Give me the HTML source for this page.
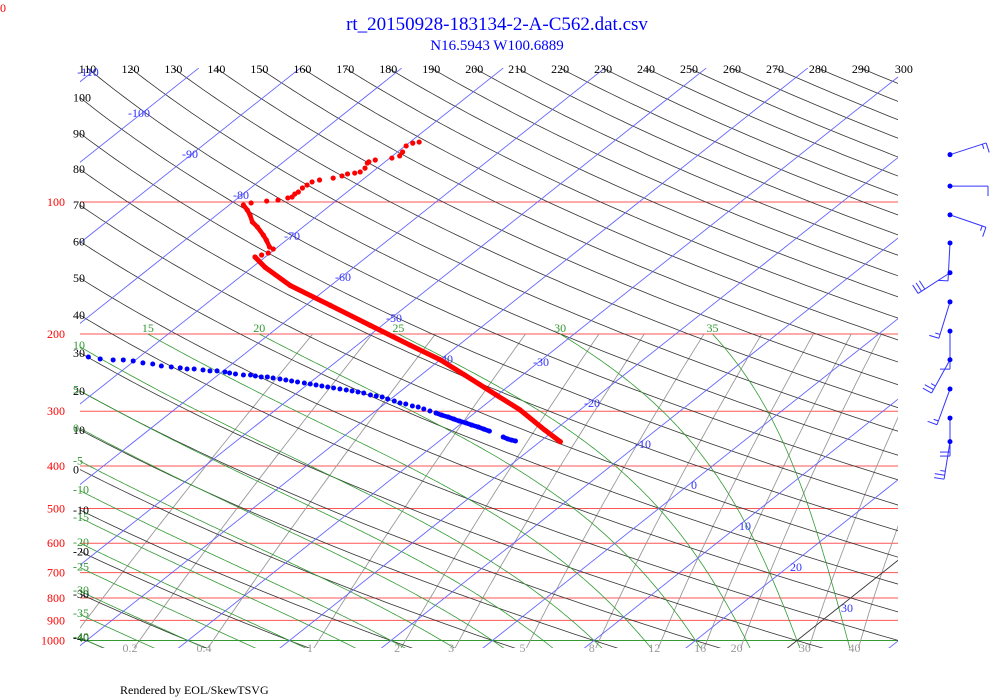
<!DOCTYPE html>
<html><head><meta charset="utf-8">
<style>
html,body{margin:0;padding:0;background:#fff;}
svg{display:block;font-family:"Liberation Serif",serif;}
</style></head>
<body>
<svg id="chart" width="1000" height="700" viewBox="0 0 1000 700" xmlns="http://www.w3.org/2000/svg">
  <defs><clipPath id="plotclip"><rect x="80" y="68" width="818" height="580"/></clipPath></defs>
  <text x="0" y="12" font-size="12" fill="#ff0000">0</text>
  <text x="497" y="30" font-size="19" fill="#0000ff" text-anchor="middle">rt_20150928-183134-2-A-C562.dat.csv</text>
  <text x="497" y="50" font-size="15" fill="#0000ff" text-anchor="middle">N16.5943 W100.6889</text>
  <text x="120" y="694" font-size="12" fill="#000">Rendered by EOL/SkewTSVG</text>
  <g id="grid" clip-path="url(#plotclip)"></g>
  <g id="labels"></g>
  <g id="series" clip-path="url(#plotclip)"></g>
  <g id="barbs"></g>
</svg>
<script>
// ---- data ----
const tempP = [352,331,298,275,248,229,212,191,172,155,141,133.5,132.1,130.7,128.0,126.7,122.1,119.0,114.0,111.1,107.1,104.3,101.6,100.5,99.5,99.0,97.9,97.4,95.9,94.9,92.9,91.5,90.0,89.1,88.2,87.2,86.3,85.9,85.4,83.7,81.5,81.0,80.2,79.4,78.5,76.9,74.5,73.4,73.0];
const tempT = [-18.0,-21.0,-25.9,-30.2,-35.7,-40.0,-44.8,-51.2,-57.6,-64.0,-68.7,-71.0,-70.6,-70.2,-70.2,-70.8,-72.0,-72.9,-74.5,-75.6,-76.7,-77.6,-78.6,-78.1,-76.8,-75.8,-75.1,-74.8,-74.9,-74.8,-74.9,-74.8,-74.7,-74.2,-73.1,-72.5,-72.2,-71.6,-71.2,-71.2,-71.6,-71.6,-71.2,-69.8,-69.3,-69.5,-69.9,-69.6,-69.1];
const dewP = [225.7,228.0,229.2,229.2,230.4,232.8,234.1,236.6,237.8,239.0,240.3,240.3,241.6,242.8,242.8,244.1,245.5,246.8,248.0,248.0,249.3,250.6,250.6,252.0,253.3,254.6,256.0,257.3,258.7,260.0,261.4,262.8,264.2,265.6,267.0,268.4,269.8,271.2,272.7,275.5,277.0,278.4,281.4,284.4,287.3,288.9,291.9,293.5,296.6,299.7,302.9,306.1,309.3,312.6,315.9,319.2,322.6,326.0,329.5,333.0,343.6,347.2,349.1,350.8];
const dewT = [-75.0,-73.6,-72.2,-71.2,-70.1,-68.9,-67.8,-66.7,-65.6,-64.6,-63.8,-63.1,-62.1,-61.3,-60.6,-59.7,-59.1,-58.4,-57.5,-56.8,-56.2,-55.5,-54.9,-54.2,-53.4,-52.7,-52.0,-51.3,-50.5,-49.8,-49.1,-48.4,-47.7,-47.0,-46.25,-45.5,-44.8,-44.1,-43.4,-42.5,-41.8,-41.1,-40.3,-39.4,-38.6,-37.9,-37.0,-36.3,-35.5,-34.65,-33.8,-33.0,-32.1,-31.3,-30.5,-29.6,-28.8,-27.9,-27.1,-26.3,-24.2,-23.5,-23.0,-22.5];
const windP = [78,92,107,124,145,169,197,229,267,311,352];
const windDir = [72,90,109,183,237,197,180,209,200,180,189];
const windSpd = [15,10,15,10,30,15,10,25,15,20,25];
const pressureTicks = [100,200,300,400,500,600,700,800,900,1000];
const isoTicks = [-120,-110,-100,-90,-80,-70,-60,-50,-40,-30,-20,-10,0,10,20,30,40,50];
const thetaTicks = [-40,-30,-20,-10,0,10,20,30,40,50,60,70,80,90,100,110,120,130,140,150,160,170,180,190,200,210,220,230,240,250,260,270,280,290,300];
const moistTicks = [-40,-35,-30,-25,-20,-15,-10,-5,0,5,10,15,20,25,30,35];
const mixTicks = [0.1,0.2,0.4,1,2,3,5,8,12,16,20,30,40];

// ---- axes ----
function yP(p){return 202+438.5*Math.log10(p/100);}
function xT(T,p){return 233+10.15*(T+80)-1.26*(yP(p)-202);}
const NS='http://www.w3.org/2000/svg';
const grid=document.getElementById('grid'), labels=document.getElementById('labels'), series=document.getElementById('series'), barbs=document.getElementById('barbs');
function mk(tag,attrs,parent){const e=document.createElementNS(NS,tag);for(const k in attrs)e.setAttribute(k,attrs[k]);parent.appendChild(e);return e;}
function txt(parent,x,y,s,fill,anchor){const t=mk('text',{x:x,y:y,'font-size':12,fill:fill,'text-anchor':anchor||'start'},parent);t.textContent=s;return t;}
function pathFrom(pts){return pts.map((q,i)=>(i?'L':'M')+q[0].toFixed(1)+' '+q[1].toFixed(1)).join(' ');}
const PTOP=49.5, PBOT=1050;
function crossLeft(f,lo0){
  let lo=lo0||PTOP,hi=PBOT; const a=f(lo)-80,b=f(hi)-80;
  if(a*b>0) return null;
  for(let i=0;i<50;i++){const m=Math.sqrt(lo*hi);const v=f(m)-80;if((v>0)===(a>0))lo=m;else hi=m;}
  return yP(lo);
}

// isobars
pressureTicks.forEach(p=>{
  const l=mk('line',{x1:80,x2:898,y1:yP(p),y2:yP(p),stroke:p===1000?'#339933':'#ff5555','stroke-width':1},grid);
  
  
  const t=txt(labels,65,yP(p)+4,String(p),'#ff0000','end');
  
  
});

// mixing ratio lines
mixTicks.forEach(w=>{
  const pts=[];
  for(let p=PBOT;p>=200;p-=10){const e=w*p/(622+w);const l=Math.log(e/6.112);const td=243.5*l/(17.67-l);pts.push([xT(td,p),yP(p)]);}
  const pa=mk('path',{d:pathFrom(pts),fill:'none',stroke:'#999','stroke-width':0.9},grid);
  
  
  if(w>=0.2){const t=txt(labels,pts[1][0]-4,652,String(w),'#999','middle');
    
    }
});

// dry adiabats
thetaTicks.forEach(th=>{
  const f=p=>xT((th+273.15)*Math.pow(p/1000,0.286)-273.15,p);
  const pts=[];
  for(let lp=Math.log(PBOT);lp>=Math.log(PTOP)-0.01;lp-=0.02){const p=Math.exp(lp);pts.push([f(p),yP(p)]);}
  const pa=mk('path',{d:pathFrom(pts),fill:'none',stroke:'#333','stroke-width':0.8},grid);
  
  
  const yl=crossLeft(f);
  let t;
  if(yl!==null && yl>72) t=txt(labels,73,yl+4,String(th),'#000');
  else {const xt=f(PTOP); if(xt>=70&&xt<=905) t=txt(labels,xt,73,String(th),'#000','middle');}
  if(t){
    }
});

// moist adiabats
function dTdp(T,p){const Tc=T-273.15;const es=6.112*Math.exp(17.67*Tc/(Tc+243.5));const rs=0.622*es/(p-es);
  const Rd=287.04,cp=1005.7,L=2.501e6,eps=0.622;return (Rd*T+L*rs)/(p*(cp+L*L*rs*eps/(Rd*T*T)));}
moistTicks.forEach(tw=>{
  let T=tw+273.15; const up=[];
  for(let p=1000;p>=200;p-=2){up.push([p,T]);T-=dTdp(T,p)*2;}
  T=tw+273.15; const dn=[];
  for(let p=1000;p<=PBOT;p+=2){dn.unshift([p,T]);T+=dTdp(T,p)*2;}
  const all=dn.concat(up);
  const pts=all.map(a=>[xT(a[1]-273.15,a[0]),yP(a[0])]);
  const pa=mk('path',{d:pathFrom(pts),fill:'none',stroke:'#339933','stroke-width':0.8},grid);
  
  
  const f=p=>{let best=all[0];for(const a of all){if(Math.abs(a[0]-p)<Math.abs(best[0]-p))best=a;}return xT(best[1]-273.15,best[0]);};
  const yl=crossLeft(f,200);
  let t;
  if(yl!==null) t=txt(labels,73,yl+3,String(tw),'#339933');
  else t=txt(labels,xT(up[up.length-1][1]-273.15,200),yP(200)-2,String(tw),'#339933','middle');
  
  
});

// isotherms
isoTicks.forEach(T=>{
  const l=mk('line',{x1:xT(T,PBOT),y1:yP(PBOT),x2:xT(T,PTOP),y2:yP(PTOP),stroke:T===30?'#333':'#6666ff','stroke-width':0.9},grid);
  
  
  if(T>=-110&&T<=30){
    let x,y;
    if(T<=-40){x=88+(T+110)/10*51;y=76+(T+110)/10*41;}else{x=541+(T+30)/10*51;y=366+(T+30)/10*41;}
    const t=txt(labels,x,y,String(T),'#3333ff','middle');
    
    
  }
});

// temperature profile
const tp=tempP.map((p,i)=>[xT(tempT[i],p),yP(p)]);
const tline=mk('path',{d:pathFrom(tp.filter((q,i)=>tempP[i]>=133)),fill:'none',stroke:'#ff0000','stroke-width':5,'stroke-linejoin':'round','stroke-linecap':'round'},series);


const tline2=mk('path',{d:pathFrom(tp.filter((q,i)=>tempP[i]<128&&tempP[i]>=101)),fill:'none',stroke:'#ff0000','stroke-width':4.5,'stroke-linejoin':'round','stroke-linecap':'round'},series);


tp.forEach(q=>{const c=mk('circle',{cx:q[0],cy:q[1],r:2.6,fill:'#ff0000'},series);
  
  });

// dewpoint profile
const dp=dewP.map((p,i)=>[xT(dewT[i],p),yP(p)]);
const dline=mk('path',{d:pathFrom(dp.filter((q,i)=>dewP[i]>=300&&dewP[i]<=336)),fill:'none',stroke:'#0000ff','stroke-width':4.5,'stroke-linecap':'round'},series);


const dline2=mk('path',{d:pathFrom(dp.filter((q,i)=>dewP[i]>=342)),fill:'none',stroke:'#0000ff','stroke-width':4.5,'stroke-linecap':'round'},series);


dp.forEach(q=>{const c=mk('circle',{cx:q[0],cy:q[1],r:2.5,fill:'#0000ff'},series);
  
  });

// wind barbs
windP.forEach((p,i)=>{
  const x0=950,y0=yP(p),a=windDir[i]*Math.PI/180,len=38;
  const dx=Math.sin(a),dy=-Math.cos(a);
  const x1=x0+dx*len,y1=y0+dy*len;
  const g=mk('g',{},barbs);
  
  
  mk('line',{x1:x0,y1:y0,x2:x1,y2:y1,stroke:'#3333ff','stroke-width':1},g);
  let s=windSpd[i],k=0;
  const px=-dy,py=dx;
  while(s>=10){const bx=x1-dx*k*4,by=y1-dy*k*4;mk('line',{x1:bx,y1:by,x2:bx+px*10,y2:by+py*10,stroke:'#3333ff','stroke-width':1},g);s-=10;k++;}
  if(s>=5){const bx=x1-dx*k*4,by=y1-dy*k*4;mk('line',{x1:bx,y1:by,x2:bx+px*5,y2:by+py*5,stroke:'#3333ff','stroke-width':1},g);}
  mk('circle',{cx:x0,cy:y0,r:2.5,fill:'#0000ff'},g);
});
</script>
</body></html>
